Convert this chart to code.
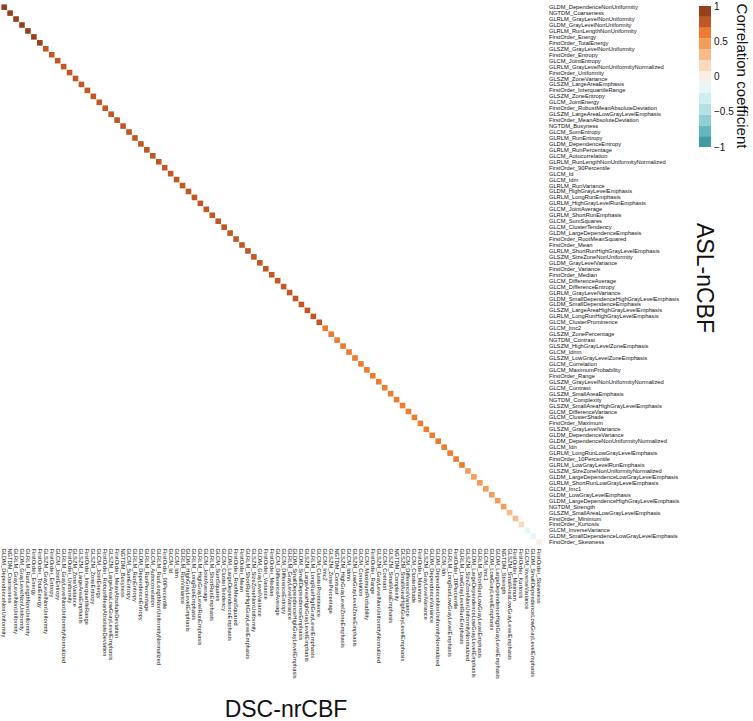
<!DOCTYPE html>
<html>
<head>
<meta charset="utf-8">
<script src="https://cdn.jsdelivr.net/npm/d3@7"></script>
<style>
  body { margin: 0; background: #fff; }
  text { font-family: 'Liberation Sans', Arial, Helvetica, sans-serif; fill: #111; }
</style>
</head>
<body>
<div id="chart"></div>
<script>
// radiomic features, in the order they appear on both axes
const features = [
  'GLDM_DependenceNonUniformity', 'NGTDM_Coarseness', 'GLRLM_GrayLevelNonUniformity',
  'GLDM_GrayLevelNonUniformity', 'GLRLM_RunLengthNonUniformity', 'FirstOrder_Energy',
  'FirstOrder_TotalEnergy', 'GLSZM_GrayLevelNonUniformity', 'FirstOrder_Entropy',
  'GLCM_JointEntropy', 'GLRLM_GrayLevelNonUniformityNormalized', 'FirstOrder_Uniformity',
  'GLSZM_ZoneVariance', 'GLSZM_LargeAreaEmphasis', 'FirstOrder_InterquartileRange',
  'GLSZM_ZoneEntropy', 'GLCM_JointEnergy', 'FirstOrder_RobustMeanAbsoluteDeviation',
  'GLSZM_LargeAreaLowGrayLevelEmphasis', 'FirstOrder_MeanAbsoluteDeviation', 'NGTDM_Busyness',
  'GLCM_SumEntropy', 'GLRLM_RunEntropy', 'GLDM_DependenceEntropy', 'GLRLM_RunPercentage',
  'GLCM_Autocorrelation', 'GLRLM_RunLengthNonUniformityNormalized', 'FirstOrder_90Percentile',
  'GLCM_Id', 'GLCM_Idm', 'GLRLM_RunVariance', 'GLDM_HighGrayLevelEmphasis',
  'GLRLM_LongRunEmphasis', 'GLRLM_HighGrayLevelRunEmphasis', 'GLCM_JointAverage',
  'GLRLM_ShortRunEmphasis', 'GLCM_SumSquares', 'GLCM_ClusterTendency',
  'GLDM_LargeDependenceEmphasis', 'FirstOrder_RootMeanSquared', 'FirstOrder_Mean',
  'GLRLM_ShortRunHighGrayLevelEmphasis', 'GLSZM_SizeZoneNonUniformity', 'GLDM_GrayLevelVariance',
  'FirstOrder_Variance', 'FirstOrder_Median', 'GLCM_DifferenceAverage', 'GLCM_DifferenceEntropy',
  'GLRLM_GrayLevelVariance', 'GLDM_SmallDependenceHighGrayLevelEmphasis',
  'GLDM_SmallDependenceEmphasis', 'GLSZM_LargeAreaHighGrayLevelEmphasis',
  'GLRLM_LongRunHighGrayLevelEmphasis', 'GLCM_ClusterProminence', 'GLCM_Imc2',
  'GLSZM_ZonePercentage', 'NGTDM_Contrast', 'GLSZM_HighGrayLevelZoneEmphasis', 'GLCM_Idmn',
  'GLSZM_LowGrayLevelZoneEmphasis', 'GLCM_Correlation', 'GLCM_MaximumProbability',
  'FirstOrder_Range', 'GLSZM_GrayLevelNonUniformityNormalized', 'GLCM_Contrast',
  'GLSZM_SmallAreaEmphasis', 'NGTDM_Complexity', 'GLSZM_SmallAreaHighGrayLevelEmphasis',
  'GLCM_DifferenceVariance', 'GLCM_ClusterShade', 'FirstOrder_Maximum', 'GLSZM_GrayLevelVariance',
  'GLDM_DependenceVariance', 'GLDM_DependenceNonUniformityNormalized', 'GLCM_Idn',
  'GLRLM_LongRunLowGrayLevelEmphasis', 'FirstOrder_10Percentile', 'GLRLM_LowGrayLevelRunEmphasis',
  'GLSZM_SizeZoneNonUniformityNormalized', 'GLDM_LargeDependenceLowGrayLevelEmphasis',
  'GLRLM_ShortRunLowGrayLevelEmphasis', 'GLCM_Imc1', 'GLDM_LowGrayLevelEmphasis',
  'GLDM_LargeDependenceHighGrayLevelEmphasis', 'NGTDM_Strength',
  'GLSZM_SmallAreaLowGrayLevelEmphasis', 'FirstOrder_Minimum', 'FirstOrder_Kurtosis',
  'GLCM_InverseVariance', 'GLDM_SmallDependenceLowGrayLevelEmphasis', 'FirstOrder_Skewness'
]

const correlations = [
  0.95, 0.94, 0.93, 0.92, 0.91, 0.90, 0.88,
  0.84, 0.84, 0.83, 0.83, 0.83, 0.82, 0.82, 0.82, 0.81, 0.81,
  0.81, 0.80, 0.80, 0.80, 0.79, 0.79, 0.79, 0.78, 0.78, 0.78,
  0.77, 0.77, 0.77, 0.76, 0.76, 0.76, 0.75, 0.75, 0.75, 0.74,
  0.74, 0.74, 0.73, 0.73, 0.73, 0.72, 0.72, 0.72, 0.72, 0.71,
  0.71, 0.71, 0.71, 0.70, 0.70, 0.70, 0.70,
  0.68, 0.68, 0.67, 0.67, 0.66, 0.66, 0.65, 0.65, 0.64, 0.64,
  0.63, 0.63, 0.62, 0.62, 0.61, 0.61, 0.60, 0.60, 0.59, 0.58,
  0.58, 0.57, 0.56, 0.55,
  0.52, 0.50, 0.48, 0.46, 0.44, 0.42, 0.40,
  0.34, 0.28, 0.20,
  -0.12, -0.10, 0.06
]

const legendTicks = [1, 0.5, 0, -0.5, -1]

// stepped palette, from -1 (teal) to 1 (brown)
const palette = [
  '#3f9ca1', '#62b8be', '#8fd0d6', '#b3e1e5', '#d0eef1', '#e7f6f8', '#fbeee4',
  '#fbd9bd', '#f8bb8c', '#f59c59', '#ee7b2e', '#c15722', '#983f1d'
]

const width = 753
const height = 721
const cell = 5.95
const gridX = 1
const gridY = 4
const labelSize = 5.75

const svg = d3
  .select('#chart')
  .append('svg')
  .attr('width', width)
  .attr('height', height)

const xPositionScale = d3
  .scaleBand()
  .domain(features)
  .range([gridX, gridX + cell * features.length])
  .padding(0.06)

const yPositionScale = d3
  .scaleBand()
  .domain(features)
  .range([gridY, gridY + cell * features.length])
  .padding(0.06)

const colorScale = d3
  .scaleQuantize()
  .domain([-1, 1])
  .range(palette)

const rows = features.map((f, i) => ({ feature: f, r: correlations[i] }))

// diagonal tiles
svg
  .append('g')
  .selectAll('rect')
  .data(rows)
  .enter()
  .append('rect')
  .attr('x', d => xPositionScale(d.feature))
  .attr('y', d => yPositionScale(d.feature))
  .attr('width', xPositionScale.bandwidth())
  .attr('height', yPositionScale.bandwidth())
  .attr('fill', d => colorScale(d.r))

const gridRight = gridX + cell * features.length
const gridBottom = gridY + cell * features.length

// tiny labels: draw at 10px and scale down, so the browser does not clamp the size
const k = labelSize / 10

// right side labels (ASL-nCBF)
svg
  .append('g')
  .selectAll('text')
  .data(features)
  .enter()
  .append('text')
  .attr('transform', d => {
    const cy = yPositionScale(d) + yPositionScale.bandwidth() / 2
    return 'translate(' + (gridRight + 6.5) + ',' + cy + ') scale(' + k + ')'
  })
  .attr('dy', '0.35em')
  .attr('font-size', 10)
  .text(d => d)

// bottom labels (DSC-nrCBF), rotated to read downwards
svg
  .append('g')
  .selectAll('text')
  .data(features)
  .enter()
  .append('text')
  .attr('transform', d => {
    const cx = xPositionScale(d) + xPositionScale.bandwidth() / 2
    return 'translate(' + cx + ',' + (gridBottom + 3) + ') rotate(90) scale(' + k + ')'
  })
  .attr('dy', '0.35em')
  .attr('font-size', 10)
  .text(d => d)

// axis titles
svg
  .append('text')
  .attr('x', 286)
  .attr('y', 717)
  .attr('text-anchor', 'middle')
  .attr('font-size', 23)
  .text('DSC-nrCBF')

svg
  .append('text')
  .attr('transform', 'translate(697,278) rotate(90)')
  .attr('text-anchor', 'middle')
  .attr('font-size', 23)
  .text('ASL-nCBF')

// colour legend
const legendY = d3
  .scaleLinear()
  .domain([-1, 1])
  .range([147, 6])

const step = 2 / palette.length
const legend = svg.append('g')

legend
  .selectAll('rect')
  .data(palette)
  .enter()
  .append('rect')
  .attr('x', 699)
  .attr('width', 12)
  .attr('y', (d, i) => legendY(-1 + (i + 1) * step))
  .attr('height', (d, i) => legendY(-1 + i * step) - legendY(-1 + (i + 1) * step))
  .attr('fill', d => d)

legend
  .selectAll('text')
  .data(legendTicks)
  .enter()
  .append('text')
  .attr('x', 714)
  .attr('y', d => legendY(d))
  .attr('dy', '0.35em')
  .attr('font-size', 10)
  .text(d => d3.format('')(d).replace('-', '\u2212'))

svg
  .append('text')
  .attr('transform', 'translate(737,76) rotate(90)')
  .attr('text-anchor', 'middle')
  .attr('font-size', 15)
  .text('Correlation coefficient')
</script>
</body>
</html>
